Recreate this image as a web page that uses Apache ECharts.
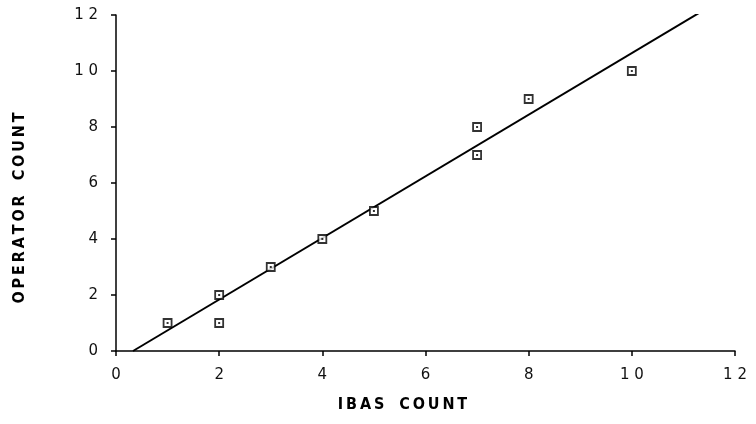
<!DOCTYPE html>
<html>
<head>
    <meta charset="utf-8">
    <title>IBAS vs Operator</title>
    <script src="https://cdn.jsdelivr.net/npm/echarts@6/dist/echarts.min.js"></script>
</head>
<body style="margin:0;background:#fff">
    <div id="main" style="width:756px;height:424px;"></div>
    <script type="text/javascript">
        // points
        var ibasCount = [1, 2, 2, 3, 4, 5, 7, 7, 8, 10];
        var operatorCount = [1, 2, 1, 3, 4, 5, 8, 7, 9, 10];
        // fitted line endpoints as drawn
        var fitX = [0.33, 11.3];
        var fitY = [0, 12.07];
        var tickValues = [0, 2, 4, 6, 8, 10, 12];

        var pts = ibasCount.map(function (x, i) { return [x, operatorCount[i]]; });
        var fit = fitX.map(function (x, i) { return [x, fitY[i]]; });

        var myChart = echarts.init(document.getElementById('main'));

        // spaced-out digits like the old plotter labels
        function spaced(v) {
            return String(v).split('').join(' ');
        }
        // thin spaces between letters of the axis titles
        function thin(s) {
            return s.split(' ').map(function (w) {
                return w.split('').join('\u2009');
            }).join('   ');
        }

        var axisCommon = {
            type: 'value',
            min: tickValues[0],
            max: tickValues[tickValues.length - 1],
            interval: 2,
            splitLine: { show: false },
            axisLine: { show: true, onZero: false, lineStyle: { color: '#000', width: 1.5 } },
            axisTick: { show: true, length: 5, lineStyle: { color: '#000', width: 1.5 } },
            axisLabel: { color: '#111', fontFamily: 'DejaVu Sans', fontSize: 15, formatter: spaced },
            nameLocation: 'middle'
        };

        var nameStyle = {
            color: '#000', fontFamily: 'DejaVu Sans Condensed', fontWeight: 'bold', fontSize: 16
        };

        var option = {
            animation: false,
            grid: { left: 116, top: 15, right: 21, bottom: 73 },
            xAxis: Object.assign({}, axisCommon, {
                name: thin('IBAS COUNT'),
                nameGap: 46,
                nameTextStyle: Object.assign({}, nameStyle, { padding: [0, 46, 0, 0] }),
                axisLabel: Object.assign({}, axisCommon.axisLabel, { margin: 17 })
            }),
            yAxis: Object.assign({}, axisCommon, {
                name: thin('OPERATOR COUNT'),
                nameGap: 88,
                nameTextStyle: Object.assign({}, nameStyle, { padding: [0, 50, 0, 0] }),
                axisLabel: Object.assign({}, axisCommon.axisLabel, { margin: 18 })
            }),
            series: [
                {
                    type: 'line',
                    data: fit,
                    symbol: 'none',
                    lineStyle: { color: '#000', width: 2 }
                },
                {
                    type: 'scatter',
                    data: pts,
                    symbol: 'rect',
                    symbolSize: 8,
                    itemStyle: { color: '#fff', borderColor: '#000', borderWidth: 1.8 },
                    z: 3
                },
                {
                    type: 'scatter',
                    data: pts,
                    symbol: 'rect',
                    symbolSize: 2,
                    itemStyle: { color: '#000' },
                    z: 4
                }
            ]
        };

        myChart.setOption(option);
    </script>
</body>
</html>
